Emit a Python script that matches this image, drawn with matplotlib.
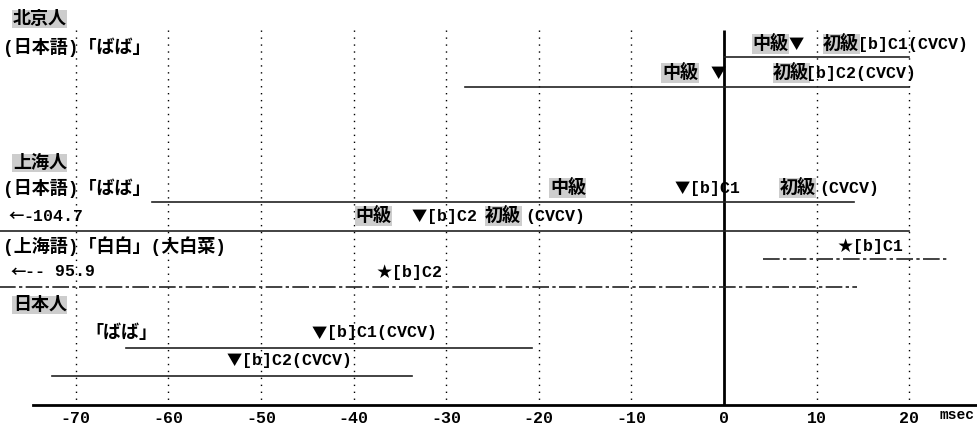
import matplotlib.pyplot as plt

plt.rcParams['font.family'] = ['Liberation Mono', 'Noto Sans CJK JP', 'DejaVu Sans']
plt.rcParams['font.weight'] = 'bold'

# time axis (msec)
ticks = [-70, -60, -50, -40, -30, -20, -10, 0, 10, 20]

# VOT ranges (msec): start, end
beijing_jp = [(0, 20), (-28, 20)]              # 北京人 (日本語)「ばば」 C1, C2
shanghai_jp = [(-61.8, 14.0), (-104.7, 20)]    # 上海人 (日本語)「ばば」 C1, C2
shanghai_sh = [(4.2, 24.2), (-95.9, 14.4)]     # 上海人 (上海語)「白白」 C1, C2
japanese_jp = [(-64.6, -20.7), (-72.6, -33.7)] # 日本人「ばば」 C1, C2

# row heights (pixel rows, top down)
beijing_y = [57, 87]
shanghai_jp_y = [202, 231]
shanghai_sh_y = [259, 287]
japanese_y = [348, 376]
axis_y = 405

# labels: x in msec, row, text, shaded
labels = [
    (-76.8, 19, '北京人', True),
    (-77.9, 47, '(日本語)「ばば」', False),
    (3.1, 44, '中級', True), (7.0, 44, '▼', False),
    (10.7, 44, '初級', True), (14.5, 44, '[b]C1(CVCV)', False),
    (-6.7, 73, '中級', True), (-1.4, 73, '▼', False),
    (5.3, 73, '初級', True), (8.9, 73, '[b]C2(CVCV)', False),
    (-76.8, 163, '上海人', True),
    (-77.9, 188, '(日本語)「ばば」', False),
    (-18.8, 188, '中級', True), (-5.3, 188, '▼[b]C1', False),
    (6.0, 188, '初級', True), (10.3, 188, '(CVCV)', False),
    (-77.3, 216, '←-104.7', False),
    (-39.8, 216, '中級', True), (-33.7, 216, '▼[b]C2', False),
    (-25.8, 216, '初級', True), (-21.5, 216, '(CVCV)', False),
    (-77.9, 246, '(上海語)「白白」(大白菜)', False),
    (12.3, 246, '★[b]C1', False),
    (-77.1, 272, '←-- 95.9', False),
    (-37.5, 272, '★[b]C2', False),
    (-76.8, 305, '日本人', True),
    (-69.0, 333, '「ばば」', False),
    (-44.5, 333, '▼[b]C1(CVCV)', False),
    (-53.7, 360, '▼[b]C2(CVCV)', False),
]


def only_cjk(s):
    return not any(c.isascii() and c.isalnum() for c in s)


fig = plt.figure(figsize=(9.78, 4.28), dpi=100)
ax = fig.add_axes([0, 0, 1, 1])
ax.set_xlim(-78.19, 27.43)
ax.set_ylim(428, 0)

for s in ['top', 'right', 'left']:
    ax.spines[s].set_visible(False)
ax.spines['bottom'].set_position(('data', axis_y))
ax.spines['bottom'].set_bounds(-74.6, 27.43)
ax.spines['bottom'].set_linewidth(2)
ax.set_yticks([])
ax.set_xticks(ticks)
ax.set_xticklabels([str(t) for t in ticks], fontsize=12)
ax.tick_params(axis='x', length=0, pad=4)

# grid
ax.vlines([t for t in ticks if t != 0], 30, axis_y, colors='k',
          linestyles=(0, (1, 4)), lw=1)
ax.vlines(0, 30, axis_y, colors='k', lw=2)

# solid ranges
for rng, ys in [(beijing_jp, beijing_y), (shanghai_jp, shanghai_jp_y),
                (japanese_jp, japanese_y)]:
    for (a, b), y in zip(rng, ys):
        ax.plot([a, b], [y, y], color='#222222', lw=1.2)

# dash-dot ranges (Shanghainese)
for (a, b), y in zip(shanghai_sh, shanghai_sh_y):
    ax.plot([a, b], [y, y], color='#222222', lw=1.2, dashes=(10, 2, 2, 2))

for x, y, txt, shaded in labels:
    if txt[0] in '▼★←':
        # full-width symbol from the CJK font
        ax.text(x, y, txt[0], fontsize=11, ha='left', va='center',
                family=['Noto Sans CJK JP'])
        x += 1.6
        txt = txt[1:]
    if not txt:
        continue
    kw = {}
    if shaded:
        kw['bbox'] = dict(facecolor='#cdcdcd', edgecolor='none', pad=0.4)
    size = 13 if only_cjk(txt) else 12
    ax.text(x, y, txt, fontsize=size, ha='left', va='center', **kw)

ax.text(23.3, 415, 'msec', fontsize=10.5, ha='left', va='center')

fig.savefig('out.png', dpi=100)
